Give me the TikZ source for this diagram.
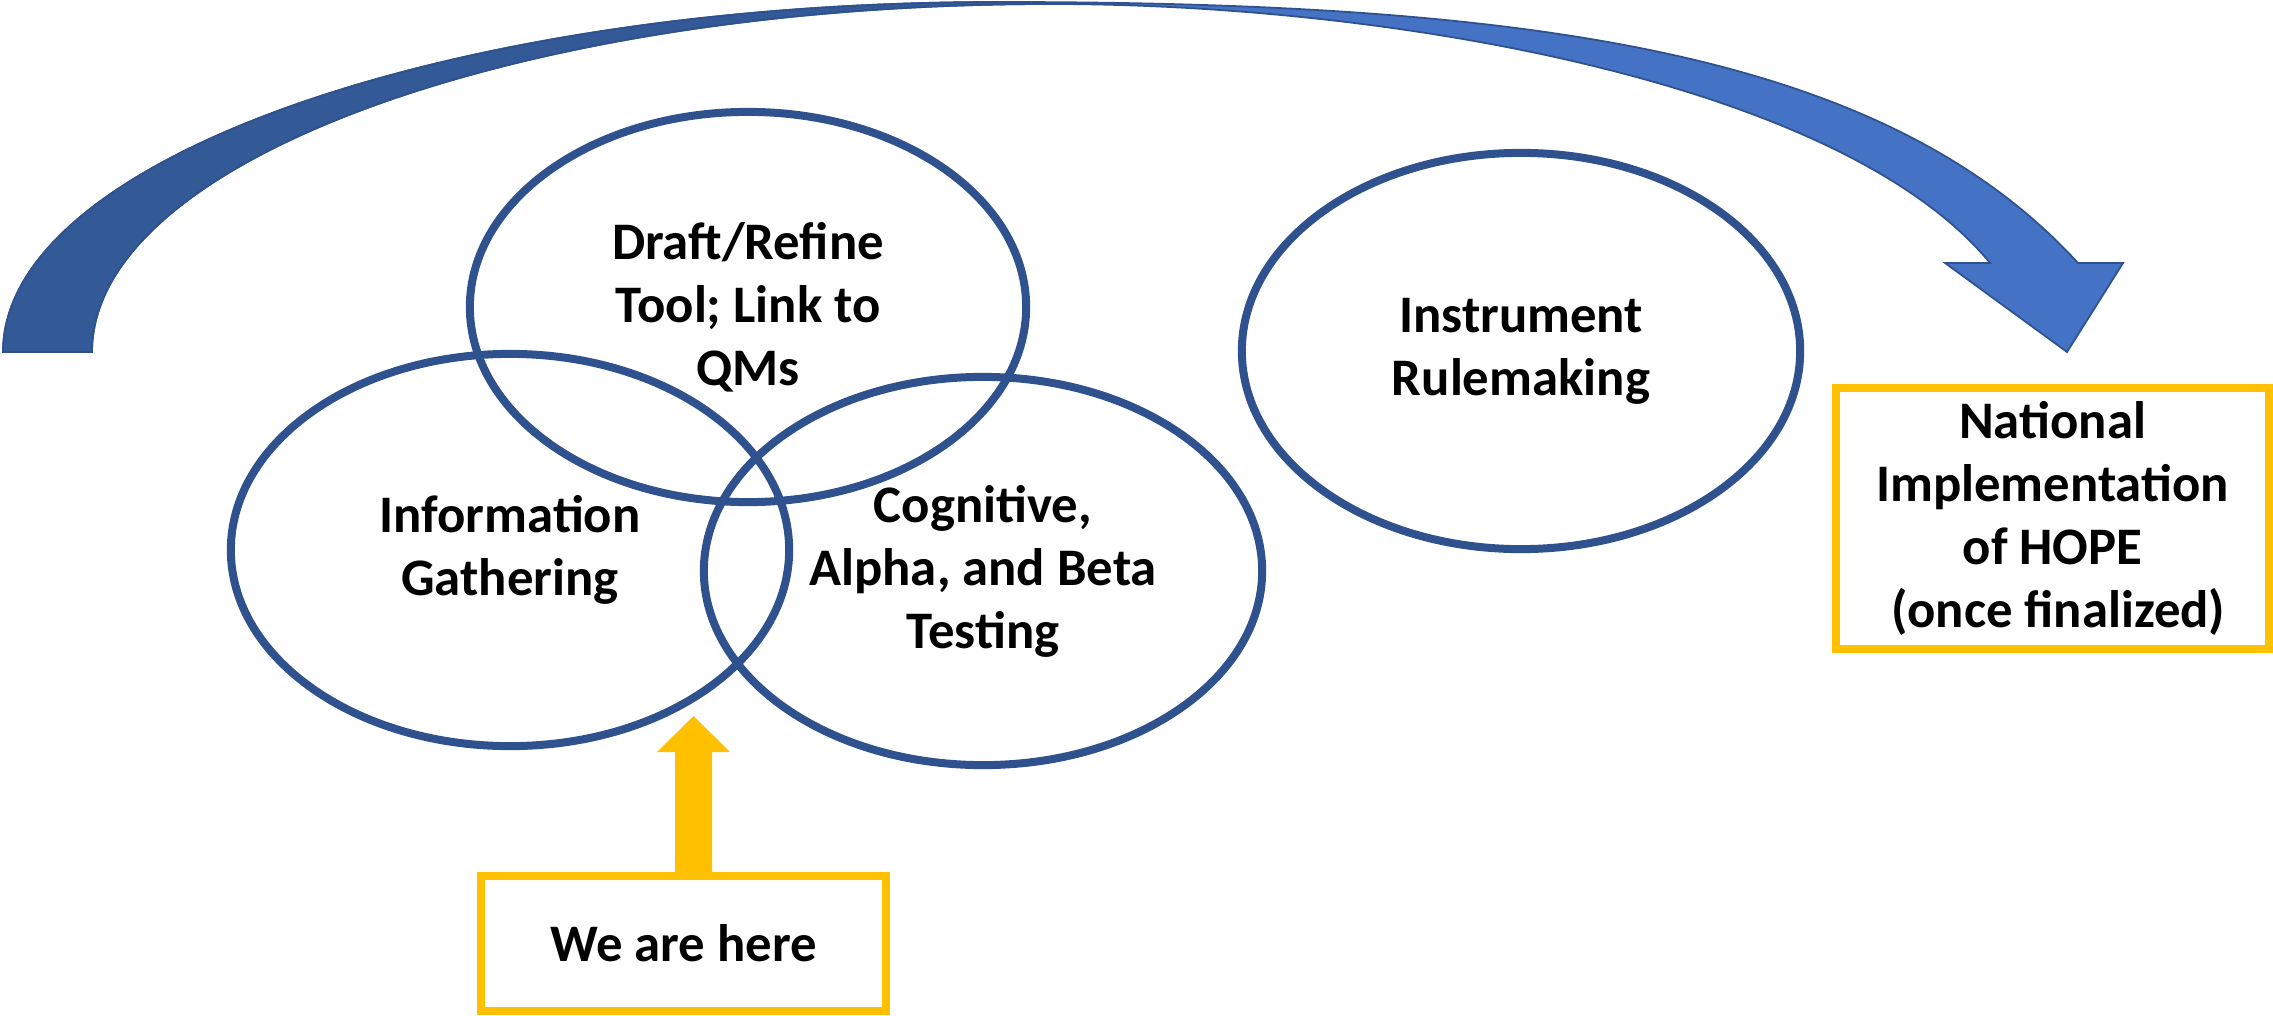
\documentclass[tikz,border=0pt]{standalone}
\usepackage{fontspec}
\setmainfont{Carlito}
\usetikzlibrary{shapes.geometric,arrows.meta,positioning}

\definecolor{ovalblue}{RGB}{47,82,143}
\definecolor{arrowblue}{RGB}{68,114,196}
\definecolor{arrowdark}{RGB}{52,89,151}
\definecolor{gold}{RGB}{255,192,0}

\tikzset{
  stage/.style={draw=ovalblue, line width=0.08cm, ellipse,
    minimum width=5.58cm, minimum height=3.92cm, align=center,
    font=\fontsize{15}{17.9}\selectfont\bfseries},
  note/.style={draw=gold, line width=0.08cm, rectangle, align=center,
    font=\fontsize{15}{17.9}\selectfont\bfseries},
}

\begin{document}
\begin{tikzpicture}[x=0.01cm,y=-0.01cm]
\useasboundingbox (0,0) rectangle (2273,1015);

% big curved arrow
\fill[arrowblue, draw=ovalblue, line width=0.5pt]
  (3,352) .. controls (3,159) and (450,2) .. (1000,2)
  .. controls (1550,2) and (1889,57) .. (2078,263)
  -- (2123,263) -- (2067,352) -- (1945,263) -- (1990,263)
  .. controls (1844,85) and (1400,4) .. (1050,4)
  .. controls (521,4) and (92,160) .. (92,352) -- cycle;
\fill[arrowdark, draw=ovalblue, line width=0.5pt]
  (3,352) .. controls (3,159) and (450,2) .. (1000,2)
  -- (1050,4) .. controls (521,4) and (92,160) .. (92,352) -- cycle;

% stages
\node[stage, minimum width=5.56cm, minimum height=3.90cm] (draft) at (748,307) {Draft/Refine\\Tool; Link to\\QMs};
\node[stage] (info) at (510,550) {Information\\Gathering};
\node[stage, minimum height=3.88cm] (test) at (983,571) {Cognitive,\\Alpha, and Beta\\Testing};
\node[stage, minimum height=3.96cm] (rule) at (1521,351) {Instrument\\Rulemaking};

% boxes
\node[note, minimum width=4.05cm, minimum height=1.35cm] (here) at (683.5,943.5) {We are here};
\node[note, minimum width=4.33cm, minimum height=2.61cm] (hope) at (2052.5,518.5) {National\\Implementation\\of HOPE\\\ (once finalized)};

\coordinate (pin) at (693.5,716);
\draw[gold, line width=0.37cm, -{Triangle[width=0.73cm,length=0.36cm,line width=0pt]}] ([xshift=0.1cm]here.north) -- (pin);
\end{tikzpicture}
\end{document}
